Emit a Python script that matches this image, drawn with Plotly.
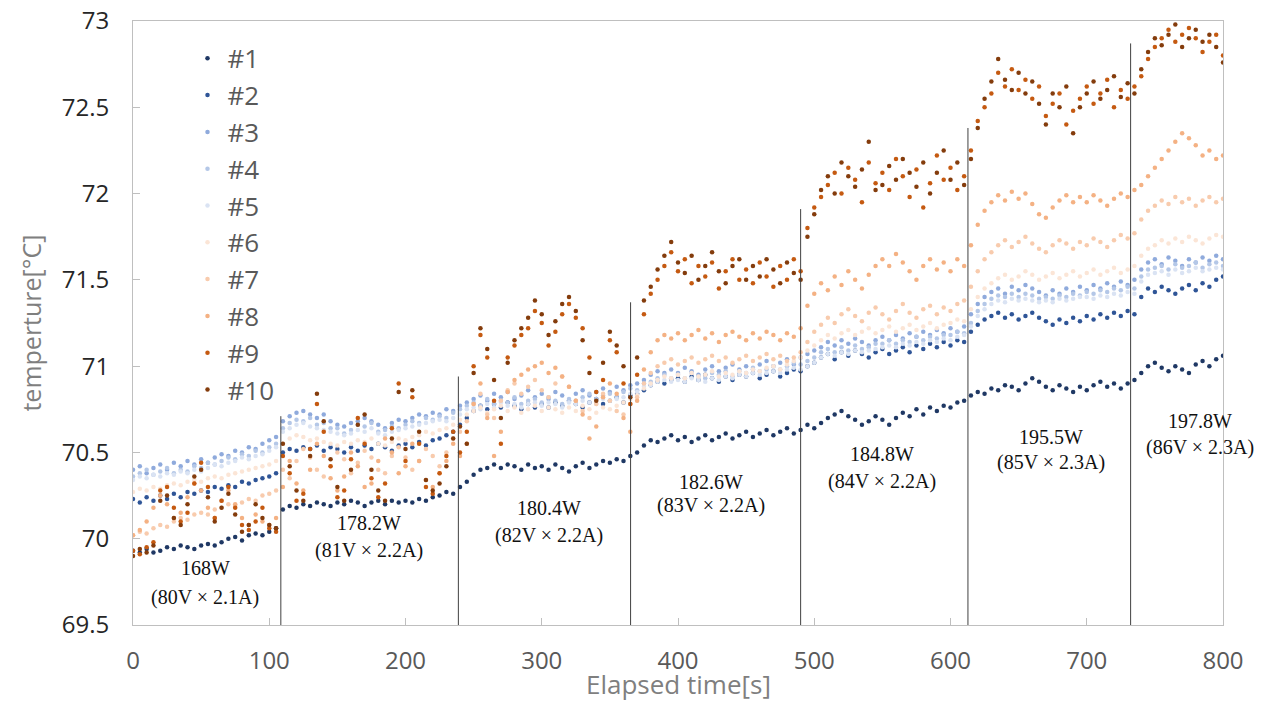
import plotly.graph_objects as go

time_s = list(range(0, 801, 5))

s1 = [69.93, 69.92, 69.94, 69.92, 69.93, 69.95, 69.94, 69.96, 69.95, 69.94,
      69.96, 69.97, 69.96, 69.98, 70.00, 70.01, 69.99, 70.02, 70.03, 70.02,
      70.04, 70.06, 70.17, 70.19, 70.18, 70.20, 70.19, 70.21, 70.20, 70.19,
      70.21, 70.20, 70.22, 70.21, 70.19, 70.21, 70.22, 70.20, 70.22, 70.21,
      70.22, 70.21, 70.23, 70.22, 70.24, 70.25, 70.27, 70.26, 70.30, 70.33,
      70.37, 70.40, 70.41, 70.43, 70.41, 70.43, 70.42, 70.40, 70.43, 70.41,
      70.42, 70.40, 70.43, 70.41, 70.39, 70.42, 70.44, 70.41, 70.43, 70.45,
      70.44, 70.46, 70.45, 70.48, 70.50, 70.54, 70.57, 70.56, 70.58, 70.60,
      70.57, 70.59, 70.56, 70.58, 70.60, 70.57, 70.59, 70.61, 70.58, 70.60,
      70.62, 70.59, 70.61, 70.63, 70.60, 70.62, 70.64, 70.61, 70.63, 70.66,
      70.64, 70.67, 70.70, 70.72, 70.74, 70.71, 70.69, 70.66, 70.68, 70.71,
      70.69, 70.66, 70.70, 70.73, 70.71, 70.75, 70.72, 70.76, 70.74, 70.77,
      70.76, 70.79, 70.80, 70.83, 70.85, 70.84, 70.87, 70.86, 70.89, 70.88,
      70.86, 70.90, 70.93, 70.91, 70.88, 70.86, 70.89, 70.87, 70.85, 70.88,
      70.86, 70.89, 70.91, 70.88, 70.90, 70.87, 70.90, 70.92, 70.96, 71.00,
      71.02, 70.99, 70.97, 71.00, 70.98, 70.96, 71.01, 71.03, 71.00, 71.04,
      71.06]

s2 = [70.23, 70.21, 70.24, 70.22, 70.25, 70.23, 70.26, 70.24, 70.27, 70.26,
      70.28, 70.27, 70.30, 70.29, 70.31, 70.30, 70.33, 70.32, 70.34, 70.35,
      70.36, 70.38, 70.50, 70.52, 70.51, 70.53, 70.52, 70.54, 70.51, 70.53,
      70.52, 70.50, 70.53, 70.51, 70.54, 70.52, 70.55, 70.53, 70.51, 70.54,
      70.55, 70.53, 70.56, 70.54, 70.57, 70.58, 70.60, 70.62, 70.66, 70.70,
      70.74, 70.77, 70.75, 70.78, 70.76, 70.79, 70.77, 70.75, 70.78, 70.76,
      70.78, 70.76, 70.79, 70.77, 70.80, 70.78, 70.76, 70.79, 70.81, 70.78,
      70.80, 70.82, 70.79, 70.83, 70.84, 70.86, 70.89, 70.91, 70.90, 70.92,
      70.93, 70.91, 70.94, 70.92, 70.95, 70.93, 70.91, 70.94, 70.92, 70.95,
      70.94, 70.96, 70.93, 70.95, 70.97, 70.94, 70.96, 70.98, 70.97, 71.00,
      71.02, 71.05, 71.07, 71.04, 71.08, 71.06, 71.09, 71.07, 71.05, 71.08,
      71.10, 71.07, 71.09, 71.11, 71.08, 71.12, 71.10, 71.13, 71.11, 71.14,
      71.12, 71.15, 71.14, 71.20, 71.24, 71.27, 71.29, 71.31, 71.28, 71.30,
      71.27, 71.29, 71.31, 71.28, 71.26, 71.24, 71.27, 71.25, 71.28, 71.26,
      71.29, 71.27, 71.30, 71.28, 71.31, 71.29, 71.32, 71.30, 71.40, 71.45,
      71.43, 71.46, 71.44, 71.42, 71.45, 71.47, 71.44, 71.48, 71.46, 71.50,
      71.52]

s3 = [70.40, 70.42, 70.38, 70.41, 70.43, 70.40, 70.44, 70.42, 70.45, 70.43,
      70.46, 70.44, 70.47, 70.49, 70.48, 70.51, 70.50, 70.53, 70.52, 70.55,
      70.57, 70.59, 70.68, 70.71, 70.73, 70.74, 70.72, 70.70, 70.72, 70.68,
      70.66, 70.65, 70.67, 70.68, 70.70, 70.68, 70.66, 70.64, 70.67, 70.69,
      70.68, 70.70, 70.72, 70.71, 70.73, 70.72, 70.75, 70.74, 70.77, 70.79,
      70.81, 70.83, 70.80, 70.84, 70.82, 70.85, 70.81, 70.83, 70.86, 70.82,
      70.84, 70.81, 70.85, 70.83, 70.80, 70.84, 70.86, 70.83, 70.85, 70.87,
      70.85, 70.88, 70.86, 70.89, 70.90, 70.92, 70.95, 70.97, 70.96, 70.98,
      70.96, 70.99, 70.97, 70.95, 70.98, 71.00, 70.97, 70.99, 71.01, 70.98,
      71.00, 70.98, 71.01, 71.03, 71.00, 71.02, 71.04, 71.01, 71.05, 71.07,
      71.09, 71.11, 71.14, 71.12, 71.15, 71.13, 71.16, 71.14, 71.12, 71.15,
      71.17, 71.15, 71.18, 71.16, 71.19, 71.17, 71.20, 71.18, 71.21, 71.19,
      71.22, 71.20, 71.23, 71.30, 71.36, 71.40, 71.43, 71.45, 71.42, 71.46,
      71.44, 71.47, 71.45, 71.43, 71.41, 71.44, 71.42, 71.45, 71.43, 71.46,
      71.44, 71.47, 71.45, 71.48, 71.46, 71.49, 71.47, 71.50, 71.56, 71.60,
      71.62, 71.59, 71.63, 71.61, 71.58, 71.62, 71.60, 71.63, 71.61, 71.64,
      71.62]

s4 = [70.36, 70.38, 70.40, 70.37, 70.39, 70.41, 70.38, 70.40, 70.39, 70.42,
      70.41, 70.44, 70.43, 70.45, 70.47, 70.46, 70.49, 70.48, 70.51, 70.50,
      70.53, 70.55, 70.64, 70.67, 70.69, 70.68, 70.70, 70.66, 70.67, 70.64,
      70.64, 70.61, 70.63, 70.66, 70.65, 70.67, 70.62, 70.63, 70.65, 70.64,
      70.66, 70.68, 70.67, 70.70, 70.69, 70.71, 70.70, 70.73, 70.75, 70.77,
      70.79, 70.77, 70.81, 70.78, 70.80, 70.79, 70.82, 70.78, 70.80, 70.81,
      70.79, 70.82, 70.80, 70.78, 70.81, 70.80, 70.82, 70.84, 70.81, 70.83,
      70.84, 70.82, 70.85, 70.87, 70.86, 70.90, 70.91, 70.93, 70.95, 70.93,
      70.95, 70.93, 70.96, 70.94, 70.93, 70.96, 70.95, 70.97, 70.94, 70.97,
      70.96, 70.99, 70.97, 70.98, 71.00, 70.98, 71.00, 71.02, 71.01, 71.03,
      71.05, 71.08, 71.10, 71.08, 71.11, 71.09, 71.12, 71.10, 71.11, 71.13,
      71.13, 71.15, 71.13, 71.15, 71.14, 71.17, 71.15, 71.17, 71.16, 71.18,
      71.18, 71.20, 71.19, 71.25, 71.32, 71.36, 71.39, 71.41, 71.40, 71.42,
      71.40, 71.42, 71.41, 71.39, 71.40, 71.39, 71.41, 71.40, 71.42, 71.41,
      71.43, 71.42, 71.44, 71.43, 71.45, 71.44, 71.46, 71.45, 71.52, 71.56,
      71.57, 71.58, 71.56, 71.59, 71.57, 71.58, 71.60, 71.57, 71.59, 71.60,
      71.58]

s5 = [70.34, 70.36, 70.35, 70.37, 70.36, 70.38, 70.37, 70.39, 70.38, 70.40,
      70.39, 70.41, 70.43, 70.42, 70.44, 70.45, 70.47, 70.46, 70.48, 70.49,
      70.51, 70.53, 70.62, 70.64, 70.66, 70.67, 70.65, 70.64, 70.63, 70.62,
      70.61, 70.60, 70.61, 70.63, 70.62, 70.64, 70.61, 70.60, 70.62, 70.63,
      70.64, 70.65, 70.66, 70.67, 70.68, 70.69, 70.68, 70.70, 70.72, 70.75,
      70.76, 70.75, 70.78, 70.76, 70.79, 70.77, 70.78, 70.76, 70.78, 70.79,
      70.77, 70.79, 70.78, 70.76, 70.79, 70.78, 70.80, 70.79, 70.78, 70.81,
      70.80, 70.81, 70.82, 70.84, 70.85, 70.88, 70.89, 70.91, 70.92, 70.91,
      70.92, 70.91, 70.93, 70.92, 70.91, 70.93, 70.92, 70.94, 70.93, 70.95,
      70.94, 70.96, 70.95, 70.96, 70.97, 70.96, 70.98, 70.99, 70.98, 71.00,
      71.02, 71.05, 71.07, 71.06, 71.08, 71.07, 71.09, 71.08, 71.09, 71.10,
      71.11, 71.12, 71.11, 71.13, 71.12, 71.14, 71.13, 71.15, 71.14, 71.16,
      71.15, 71.17, 71.18, 71.23, 71.29, 71.33, 71.36, 71.38, 71.37, 71.39,
      71.38, 71.39, 71.38, 71.37, 71.38, 71.37, 71.39, 71.38, 71.39, 71.40,
      71.40, 71.39, 71.41, 71.40, 71.42, 71.41, 71.43, 71.42, 71.49, 71.53,
      71.54, 71.55, 71.53, 71.56, 71.54, 71.55, 71.57, 71.55, 71.56, 71.57,
      71.56]

s6 = [70.27, 70.29, 70.28, 70.30, 70.29, 70.31, 70.32, 70.31, 70.33, 70.34,
      70.33, 70.35, 70.36, 70.35, 70.37, 70.38, 70.39, 70.40, 70.41, 70.42,
      70.43, 70.45, 70.55, 70.58, 70.60, 70.59, 70.57, 70.58, 70.56, 70.55,
      70.54, 70.56, 70.55, 70.57, 70.56, 70.58, 70.55, 70.54, 70.56, 70.58,
      70.57, 70.59, 70.60, 70.62, 70.61, 70.63, 70.64, 70.66, 70.69, 70.72,
      70.74, 70.76, 70.73, 70.75, 70.77, 70.74, 70.76, 70.73, 70.75, 70.77,
      70.74, 70.76, 70.75, 70.73, 70.76, 70.74, 70.77, 70.75, 70.73, 70.76,
      70.75, 70.77, 70.79, 70.81, 70.83, 70.87, 70.90, 70.92, 70.94, 70.93,
      70.95, 70.93, 70.96, 70.94, 70.95, 70.97, 70.94, 70.96, 70.95, 70.97,
      70.96, 70.98, 70.97, 70.99, 71.00, 70.98, 71.01, 71.03, 71.05, 71.09,
      71.12, 71.15, 71.18, 71.16, 71.19, 71.21, 71.18, 71.20, 71.22, 71.19,
      71.21, 71.23, 71.20, 71.22, 71.24, 71.21, 71.23, 71.25, 71.22, 71.24,
      71.25, 71.27, 71.26, 71.33, 71.40, 71.45, 71.48, 71.51, 71.53, 71.50,
      71.52, 71.55, 71.53, 71.50, 71.52, 71.54, 71.51, 71.53, 71.55, 71.52,
      71.54, 71.56, 71.53, 71.55, 71.57, 71.54, 71.56, 71.58, 71.64, 71.68,
      71.70, 71.73, 71.71, 71.74, 71.72, 71.75, 71.73, 71.71, 71.74, 71.76,
      71.75]

s7 = [70.02, 70.04, 70.03, 70.06, 70.08, 70.07, 70.10, 70.12, 70.11, 70.14,
      70.15, 70.14, 70.17, 70.18, 70.20, 70.19, 70.21, 70.23, 70.22, 70.25,
      70.26, 70.28, 70.40, 70.35, 70.45, 70.52, 70.47, 70.40, 70.36, 70.42,
      70.50, 70.46, 70.38, 70.44, 70.51, 70.47, 70.40, 70.38, 70.48, 70.53,
      70.47, 70.40, 70.45, 70.52, 70.48, 70.42, 70.50, 70.58, 70.62, 70.68,
      70.78, 70.84, 70.72, 70.70, 70.80, 70.86, 70.90, 70.84, 70.88, 70.92,
      70.86, 70.82, 70.90, 70.94, 70.88, 70.80, 70.74, 70.70, 70.78, 70.84,
      70.80, 70.74, 70.72, 70.78, 70.82, 70.90, 70.96, 71.00, 71.02, 71.04,
      71.01, 71.03, 71.05, 71.02, 71.04, 71.06, 71.03, 71.05, 71.02, 71.04,
      71.06, 71.03, 71.05, 71.07, 71.04, 71.06, 71.03, 71.05, 71.08, 71.14,
      71.20, 71.24, 71.28, 71.25, 71.30, 71.33, 71.29, 71.26, 71.31, 71.34,
      71.30, 71.27, 71.32, 71.36, 71.31, 71.28, 71.33, 71.35, 71.30, 71.34,
      71.32, 71.36, 71.38, 71.46, 71.55, 71.62, 71.66, 71.70, 71.73, 71.69,
      71.72, 71.75, 71.71, 71.68, 71.66, 71.70, 71.73, 71.71, 71.68, 71.72,
      71.70, 71.74, 71.72, 71.69, 71.73, 71.76, 71.74, 71.77, 71.85, 71.90,
      71.93, 71.96, 71.94, 71.98, 71.95, 71.97, 71.93, 71.96, 71.98, 71.95,
      71.97]

s8 = [70.02, 70.05, 70.10, 70.18, 70.25, 70.20, 70.12, 70.15, 70.24, 70.32,
      70.28, 70.18, 70.12, 70.22, 70.28, 70.20, 70.12, 70.08, 70.14, 70.10,
      70.08, 70.12, 70.30, 70.45, 70.32, 70.28, 70.40, 70.55, 70.48, 70.35,
      70.28, 70.36, 70.50, 70.42, 70.30, 70.32, 70.45, 70.58, 70.50, 70.38,
      70.42, 70.55, 70.45, 70.34, 70.30, 70.38, 70.45, 70.55, 70.48, 70.55,
      70.78, 70.90, 70.70, 70.48, 70.62, 70.85, 70.92, 70.95, 70.98, 71.00,
      71.02, 70.96, 70.99, 70.94, 70.88, 70.80, 70.72, 70.58, 70.65, 70.82,
      70.90, 70.84, 70.70, 70.62, 70.80, 70.98, 71.08, 71.15, 71.18, 71.16,
      71.19, 71.15, 71.18, 71.21, 71.16, 71.19, 71.14, 71.18, 71.20, 71.17,
      71.15, 71.19, 71.16, 71.20, 71.18, 71.15, 71.19, 71.17, 71.22, 71.35,
      71.42, 71.48, 71.44, 71.52, 71.47, 71.55, 71.50, 71.45, 71.53, 71.58,
      71.62, 71.58, 71.65, 71.60, 71.55, 71.50, 71.58, 71.62, 71.56, 71.60,
      71.55, 71.62, 71.58, 71.70, 71.82, 71.90, 71.95, 71.99, 71.96, 72.01,
      71.97, 72.00, 71.94, 71.88, 71.86, 71.92, 71.96, 71.99, 71.95, 71.98,
      71.95, 71.99, 71.96, 71.93, 71.97, 72.00, 71.98, 72.02, 72.05, 72.10,
      72.15, 72.20, 72.25, 72.30, 72.35, 72.32, 72.28, 72.22, 72.25, 72.20,
      72.22]

s9 = [69.93, 69.91, 69.95, 69.98, 70.28, 70.30, 70.18, 70.10, 70.15, 70.32,
      70.44, 70.30, 70.12, 70.22, 70.30, 70.18, 70.08, 70.05, 70.10, 70.18,
      70.06, 70.04, 70.48, 70.38, 70.22, 70.26, 70.52, 70.78, 70.62, 70.42,
      70.24, 70.28, 70.46, 70.70, 70.55, 70.35, 70.24, 70.32, 70.64, 70.90,
      70.45, 70.82, 70.55, 70.30, 70.26, 70.38, 70.48, 70.62, 70.50, 70.62,
      71.00, 71.18, 71.05, 70.80, 70.55, 71.05, 71.12, 71.18, 71.22, 71.32,
      71.25, 71.12, 71.20, 71.30, 71.36, 71.28, 71.22, 71.05, 70.85, 70.92,
      71.15, 71.08, 70.90, 70.78, 70.95, 71.30, 71.42, 71.50, 71.58, 71.66,
      71.55, 71.62, 71.48, 71.58, 71.52, 71.60, 71.45, 71.55, 71.62, 71.50,
      71.56, 71.48, 71.60, 71.52, 71.46, 71.58, 71.50, 71.62, 71.55, 71.80,
      71.92, 71.98, 72.05, 72.12, 72.00, 72.15, 72.08, 71.95, 72.18, 72.06,
      72.12, 72.02, 72.20, 72.10, 71.98, 72.14, 71.92, 72.06, 72.22, 72.08,
      72.15, 72.02, 72.10, 72.25, 72.42, 72.50, 72.58, 72.70, 72.62, 72.72,
      72.60, 72.66, 72.55, 72.62, 72.45, 72.52, 72.58, 72.40, 72.48, 72.55,
      72.62, 72.52, 72.58, 72.66, 72.50, 72.60, 72.55, 72.62, 72.68, 72.78,
      72.85, 72.90, 72.95, 72.88, 72.92, 72.96, 72.90, 72.82, 72.88, 72.92,
      72.80]

s10 = [69.90, 69.94, 69.92, 69.96, 70.22, 70.25, 70.12, 70.08, 70.20, 70.36,
       70.40, 70.24, 70.10, 70.18, 70.26, 70.14, 70.04, 70.08, 70.20, 70.12,
       70.08, 70.06, 70.55, 70.42, 70.28, 70.22, 70.48, 70.84, 70.68, 70.46,
       70.30, 70.22, 70.40, 70.66, 70.72, 70.40, 70.28, 70.22, 70.58, 70.85,
       70.52, 70.86, 70.62, 70.34, 70.28, 70.32, 70.42, 70.58, 70.65, 70.55,
       70.96, 71.22, 71.10, 70.92, 70.70, 71.02, 71.15, 71.22, 71.28, 71.38,
       71.30, 71.18, 71.26, 71.36, 71.40, 71.32, 71.15, 70.96, 70.80, 71.02,
       71.20, 71.12, 71.00, 70.82, 71.05, 71.38, 71.46, 71.56, 71.64, 71.72,
       71.60, 71.54, 71.64, 71.50, 71.58, 71.66, 71.55, 71.48, 71.58, 71.62,
       71.50, 71.58, 71.52, 71.62, 71.56, 71.48, 71.60, 71.54, 71.50, 71.75,
       71.88, 72.02, 72.10, 72.00, 72.18, 72.10, 72.04, 72.14, 72.30, 72.02,
       72.05, 72.16, 72.08, 72.20, 72.12, 72.04, 72.18, 72.00, 72.12, 72.25,
       72.08, 72.18, 72.05, 72.20, 72.38, 72.55, 72.65, 72.78, 72.66, 72.60,
       72.70, 72.58, 72.65, 72.52, 72.40, 72.58, 72.50, 72.62, 72.35, 72.50,
       72.58, 72.65, 72.55, 72.60, 72.68, 72.56, 72.64, 72.58, 72.72, 72.82,
       72.90, 72.86, 72.92, 72.98, 72.85, 72.90, 72.95, 72.88, 72.92, 72.85,
       72.76]

series_names = ["#1", "#2", "#3", "#4", "#5", "#6", "#7", "#8", "#9", "#10"]
series_values = [s1, s2, s3, s4, s5, s6, s7, s8, s9, s10]
series_colors = ["#1f3864", "#2f5597", "#8faadc", "#b4c7e7", "#dae3f3",
                 "#fbe5d6", "#f8cbad", "#f4b183", "#c55a11", "#843c0c"]

# power step boundaries (s) and top of each divider line (°C)
step_times = [108.5, 238.8, 365.2, 490.0, 612.8, 732.2]
step_tops = [70.71, 70.94, 71.37, 71.91, 72.38, 72.87]

# power labels
power_labels = ["168W", "178.2W", "180.4W", "182.6W", "184.8W", "195.5W", "197.8W"]
volt_amp_labels = ["(80V × 2.1A)", "(81V × 2.2A)", "(82V × 2.2A)", "(83V × 2.2A)",
                   "(84V × 2.2A)", "(85V × 2.3A)", "(86V × 2.3A)"]
label_x = [53, 173, 305, 424, 550, 674, 783]
label_y_top = [69.83, 70.09, 70.18, 70.33, 70.49, 70.59, 70.68]
label_y_bot = [69.66, 69.93, 70.02, 70.19, 70.33, 70.44, 70.53]

fig = go.Figure()
for name, vals, col in zip(series_names, series_values, series_colors):
    fig.add_trace(go.Scatter(
        x=time_s, y=vals, mode="markers", name=name, legendgroup=name,
        marker=dict(size=4.5, color=col),
    ))

for t, top in zip(step_times, step_tops):
    fig.add_shape(type="line", xref="x", yref="y", x0=t, x1=t, y0=69.5, y1=top,
                  line=dict(color="#404040", width=1), layer="above")

serif = "Liberation Serif, Times New Roman, serif"
for x, yt, yb, p, va in zip(label_x, label_y_top, label_y_bot, power_labels, volt_amp_labels):
    fig.add_annotation(x=x, y=yt, xref="x", yref="y", text=p, showarrow=False,
                       font=dict(family=serif, size=20, color="#111111"))
    fig.add_annotation(x=x, y=yb, xref="x", yref="y", text=va, showarrow=False,
                       font=dict(family=serif, size=20, color="#111111"))

sans = "Open Sans, Noto Sans, sans-serif"

# axis titles placed as annotations for precise positioning
fig.add_annotation(x=0.5, y=-0.098, xref="paper", yref="paper", text="Elapsed time[s]",
                   showarrow=False, xanchor="center", yanchor="middle",
                   font=dict(family=sans, size=26, color="#7f7f7f"))
fig.add_annotation(x=-0.094, y=0.5, xref="paper", yref="paper", text="temperture[°C]",
                   showarrow=False, xanchor="center", yanchor="middle", textangle=-90,
                   font=dict(family=sans, size=25, color="#7f7f7f"))

fig.update_layout(
    width=1265, height=696,
    margin=dict(l=125, r=50, t=13, b=79, autoexpand=False),
    paper_bgcolor="white", plot_bgcolor="white",
    font=dict(family=sans),
    showlegend=True,
    legend=dict(x=0.050, y=0.977, xanchor="left", yanchor="top",
                font=dict(size=26, color="#595959", family=sans),
                bgcolor="rgba(0,0,0,0)", itemsizing="trace",
                tracegroupgap=0),
    xaxis=dict(range=[0, 800], dtick=100, tick0=0, showgrid=False,
               showline=True, linecolor="#bfbfbf", linewidth=1, mirror=True,
               ticks="inside", ticklen=7, tickcolor="#bfbfbf",
               tickfont=dict(size=24, color="#595959"),
               ticklabelstandoff=14, automargin=False, ticklabeloverflow="allow",
               zeroline=False),
    yaxis=dict(range=[69.5, 73], dtick=0.5, tick0=69.5, showgrid=False,
               showline=True, linecolor="#bfbfbf", linewidth=1, mirror=True,
               ticks="inside", ticklen=7, tickcolor="#bfbfbf",
               tickfont=dict(size=24, color="#262626"),
               ticklabelstandoff=18, automargin=False, ticklabeloverflow="allow",
               zeroline=False),
)

fig.write_html("out.html")
